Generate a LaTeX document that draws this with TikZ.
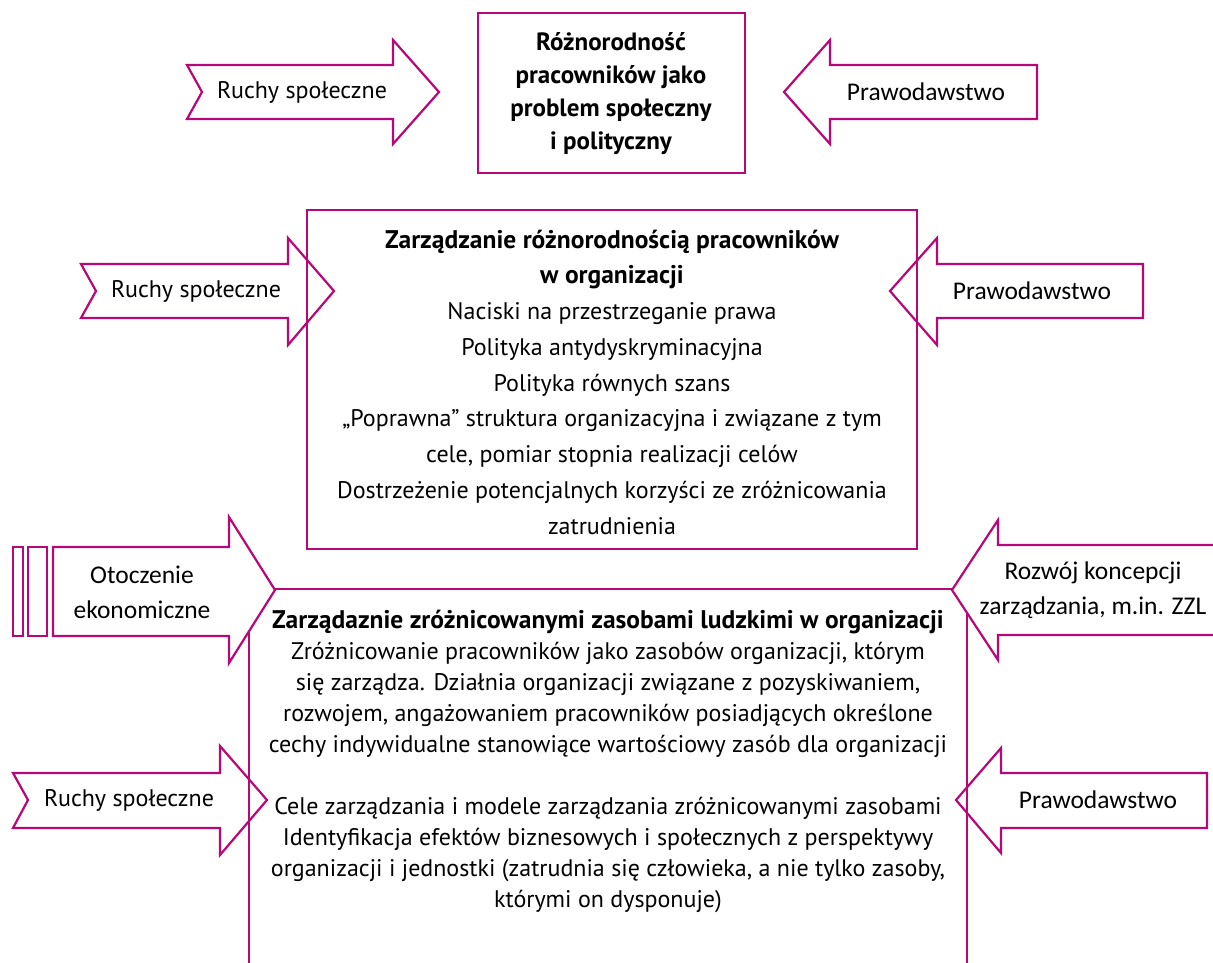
\documentclass[tikz,border=0pt]{standalone}
\usepackage{fontspec}
\setmainfont{PT Sans}
\newfontfamily\calibri{Carlito}
\usetikzlibrary{positioning}
\definecolor{fuksja}{RGB}{182,8,120}

\begin{document}
\begin{tikzpicture}[x=1pt,y=-1pt,line join=miter]
  \tikzstyle{outline}=[draw=fuksja,line width=2.2pt]
  \tikzstyle{arrowtext}=[align=center,font=\fontsize{24}{35}\selectfont]
  \tikzstyle{calibritext}=[align=center,font=\calibri\fontsize{25.5}{35}\selectfont]
  \tikzstyle{boxtext}=[align=center,font=\fontsize{24}{31}\selectfont]
  \newcommand{\heading}[1]{{\fontsize{25.5}{31}\selectfont\bfseries #1}}
  \useasboundingbox (0,0) rectangle (1213,963);

  % boxes
  \draw[outline] (478,13) rectangle (745,173);
  \draw[outline] (307,210) rectangle (917,549);
  \draw[outline] (249,975) -- (249,589) -- (967,589) -- (967,975);

  % upper arrows
  \draw[outline] (187,65) -- (393,65) -- (393,40) -- (439,92) -- (393,144) -- (393,119) -- (187,119) -- (202,92) -- cycle;
  \draw[outline] (1037,65) -- (830,65) -- (830,40) -- (784,92) -- (830,144) -- (830,119) -- (1037,119) -- cycle;
  \draw[outline] (81,264) -- (288,264) -- (288,238) -- (334,291) -- (288,345) -- (288,318) -- (81,318) -- (96,291) -- cycle;
  \draw[outline] (1143,264) -- (937,264) -- (937,238) -- (890,291) -- (937,345) -- (937,318) -- (1143,318) -- cycle;

  % lower arrows
  \draw[outline,fill=white] (13,547) rectangle (23,636);
  \draw[outline,fill=white] (28,547) rectangle (47,636);
  \draw[outline,fill=white] (53,547) -- (229,547) -- (229,517) -- (275,590) -- (229,663) -- (229,636) -- (53,636) -- cycle;
  \draw[outline,fill=white] (1230,545) -- (998,545) -- (998,520) -- (952,590) -- (998,660) -- (998,635) -- (1230,635) -- cycle;
  \draw[outline] (13,773) -- (220,773) -- (220,746) -- (267,800) -- (220,855) -- (220,828) -- (13,828) -- (28,800) -- cycle;
  \draw[outline] (1207,773) -- (1001,773) -- (1001,748) -- (956,800) -- (1001,853) -- (1001,828) -- (1207,828) -- cycle;

  % texts
  \node[boxtext,font=\fontsize{25}{33}\selectfont\bfseries] (problem) at (611,94)
    {Różnorodność\\pracowników jako\\problem społeczny\\i polityczny};
  \node[arrowtext] (ruchy1) at (302,92) {Ruchy społeczne};
  \node[calibritext] (prawo1) at (926,92) {Prawodawstwo};
  \node[arrowtext] (ruchy2) at (196,291) {Ruchy społeczne};
  \node[calibritext] (prawo2) at (1032,291) {Prawodawstwo};

  \node[boxtext,font=\fontsize{24}{35.75}\selectfont] (zarzadzanie) at (612,382)
    {\heading{Zarządzanie różnorodnością pracowników}\\
     \heading{w organizacji}\\
     Naciski na przestrzeganie prawa\\
     Polityka antydyskryminacyjna\\
     Polityka równych szans\\
     „Poprawna” struktura organizacyjna i związane z tym\\
     cele, pomiar stopnia realizacji celów\\
     Dostrzeżenie potencjalnych korzyści ze zróżnicowania\\
     zatrudnienia};

  \node[calibritext] (otoczenie) at (142,592) {Otoczenie\\ekonomiczne};
  \node[calibritext] (rozwoj) at (1093,590) {Rozwój koncepcji\\zarządzania, m.in. ZZL};
  \node[arrowtext] (ruchy3) at (129,800) {Ruchy społeczne};
  \node[calibritext] (prawo3) at (1098,800) {Prawodawstwo};

  \node[boxtext] (zasoby) at (608,761)
    {\heading{Zarządaznie zróżnicowanymi zasobami ludzkimi w organizacji}\\
     Zróżnicowanie pracowników jako zasobów organizacji, którym\\
     się zarządza. Działnia organizacji związane z pozyskiwaniem,\\
     rozwojem, angażowaniem pracowników posiadjących określone\\
     cechy indywidualne stanowiące wartościowy zasób dla organizacji\\[31pt]
     Cele zarządzania i modele zarządzania zróżnicowanymi zasobami\\
     Identyfikacja efektów biznesowych i społecznych z perspektywy\\
     organizacji i jednostki (zatrudnia się człowieka, a nie tylko zasoby,\\
     którymi on dysponuje)};
\end{tikzpicture}
\end{document}
